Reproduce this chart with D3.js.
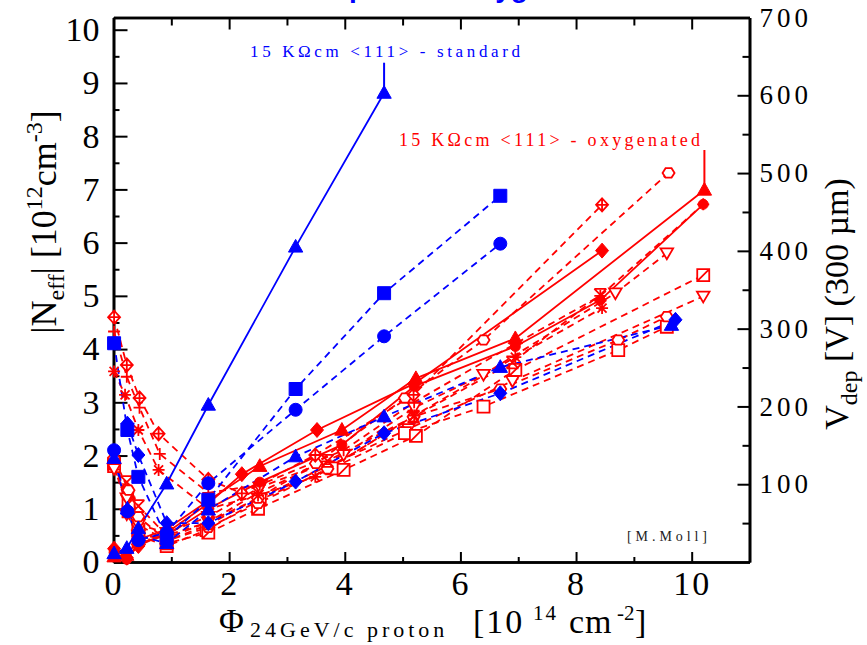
<!DOCTYPE html>
<html>
<head>
<meta charset="utf-8">
<script src="https://cdn.jsdelivr.net/npm/d3@7"></script>
<style>
  body { margin: 0; background: #fff; }
  svg { display: block; }
  text { font-family: "Liberation Serif", "Times New Roman", serif; }
</style>
</head>
<body>
<svg id="chart" width="867" height="645"></svg>
<script>
// Fluence in 1e14 cm^-2, |Neff| in 1e12 cm^-3 (Vdep for 300 um on the right axis)
const fluenceTicks = [0, 2, 4, 6, 8, 10];
const fluenceMinorTicks = [1, 3, 5, 7, 9];
const neffTicks = [0, 1, 2, 3, 4, 5, 6, 7, 8, 9, 10];
const neffMinorTicks = [0.5, 1.5, 2.5, 3.5, 4.5, 5.5, 6.5, 7.5, 8.5, 9.5];
const vdepTicks = [100, 200, 300, 400, 500, 600, 700];
const vdepMinorTicks = [50, 150, 250, 350, 450, 550, 650];
const voltsPerNeff = 68.43; // V per 1e12 cm^-3 for a 300 um thick diode

// 15 kOhm cm <111> standard silicon
const stdTriangleFluence = [0.01, 0.23, 0.43, 0.92, 1.64, 3.15, 4.68];
const stdTriangleNeff    = [0.16, 0.26, 0.63, 1.47, 2.95, 5.92, 8.81];
const stdTriangleErr     = [0, 0, 0, 0, 0, 0, 0.57];
const stdSquareFluence   = [0.01, 0.24, 0.43, 0.92, 1.64, 3.15, 4.68, 6.69];
const stdSquareNeff      = [4.11, 2.48, 1.60, 0.45, 1.17, 3.25, 5.05, 6.88];
const stdCircleFluence   = [0.01, 0.24, 0.43, 0.92, 1.64, 3.15, 4.68, 6.69];
const stdCircleNeff      = [2.10, 0.95, 0.41, 0.55, 1.48, 2.86, 4.24, 5.98];
const stdDiamondFluence  = [0.24, 0.43, 0.92, 1.64, 3.15, 4.68, 6.69, 9.72];
const stdDiamondNeff     = [2.60, 2.01, 0.73, 0.73, 1.51, 2.42, 3.17, 4.55];
const stdTriDashFluence  = [0.01, 0.24, 0.43, 0.92, 1.64, 3.15, 4.68, 6.69, 9.65];
const stdTriDashNeff     = [1.95, 1.00, 0.50, 0.35, 0.98, 1.98, 2.73, 3.66, 4.45];

// 15 kOhm cm <111> oxygenated silicon
const oxTriangleFluence  = [0.01, 0.23, 0.43, 0.92, 1.64, 2.53, 3.95, 5.23, 6.95, 10.22];
const oxTriangleNeff     = [0.10, 0.13, 0.42, 0.62, 1.15, 1.80, 2.48, 3.45, 4.20, 6.99];
const oxTriangleErr      = [0, 0, 0, 0, 0, 0, 0, 0, 0, 0.75];
const oxDiamondFluence   = [0.01, 0.23, 0.43, 0.92, 1.64, 2.22, 3.52, 5.20, 8.45];
const oxDiamondNeff      = [0.25, 0.08, 0.30, 0.55, 1.10, 1.65, 2.48, 3.35, 5.85];
const oxCircleFluence    = [0.01, 0.23, 0.43, 0.92, 1.64, 2.53, 3.95, 5.20, 6.95, 8.42, 10.20];
const oxCircleNeff       = [0.18, 0.05, 0.35, 0.50, 1.00, 1.50, 2.20, 3.30, 4.05, 4.92, 6.72];
const oxDiaPlusFluence   = [0.01, 0.23, 0.45, 0.78, 1.64, 2.22, 3.49, 5.19, 8.45];
const oxDiaPlusNeff      = [4.60, 3.70, 3.08, 2.41, 1.55, 1.29, 2.01, 3.14, 6.71];
const oxPlusFluence      = [0.01, 0.23, 0.45, 0.80, 1.64, 2.53, 3.98, 5.20, 6.95, 8.42, 10.20];
const oxPlusNeff         = [4.33, 3.48, 2.90, 2.03, 1.30, 1.45, 2.10, 3.00, 4.10, 5.00, 6.72];
const oxStarFluence      = [0.01, 0.20, 0.43, 0.78, 1.64, 2.50, 3.49, 5.20, 6.95, 8.45];
const oxStarNeff         = [3.58, 3.14, 2.48, 1.73, 1.00, 1.25, 1.60, 2.75, 3.85, 4.77];
const oxCrossFluence     = [0.23, 0.43, 0.92, 1.64, 2.50, 3.70, 5.19, 6.90, 8.42];
const oxCrossNeff        = [1.50, 1.05, 0.50, 0.75, 1.30, 1.90, 2.73, 3.75, 5.02];
const oxHexFluence       = [0.01, 0.26, 0.43, 0.92, 1.64, 2.50, 3.50, 5.04, 6.40, 9.60];
const oxHexNeff          = [1.95, 1.35, 0.85, 0.40, 0.70, 1.20, 1.85, 3.08, 4.17, 7.31];
const oxHex2Fluence      = [0.01, 0.24, 0.43, 0.92, 1.64, 2.50, 3.70, 5.19, 6.69, 8.73, 9.57];
const oxHex2Neff         = [1.90, 1.25, 0.70, 0.40, 0.65, 1.10, 1.75, 2.73, 3.25, 4.17, 4.61];
const oxSquareFluence    = [0.01, 0.26, 0.43, 0.92, 1.61, 2.53, 3.78, 5.04, 6.40, 8.73, 9.57];
const oxSquareNeff       = [1.80, 0.95, 0.50, 0.30, 0.60, 1.17, 1.76, 2.42, 2.92, 3.98, 4.42];
const oxSlashSqFluence   = [0.01, 0.26, 0.43, 0.92, 1.64, 2.50, 3.98, 5.23, 6.95, 10.20];
const oxSlashSqNeff      = [1.85, 1.10, 0.60, 0.35, 0.55, 1.00, 1.73, 2.37, 3.61, 5.39];
const oxDownTriFluence   = [0.01, 0.23, 0.43, 0.92, 1.64, 2.53, 3.98, 5.20, 6.40, 8.68, 9.57];
const oxDownTriNeff      = [1.75, 1.20, 0.70, 0.55, 0.85, 1.40, 2.01, 2.90, 3.52, 5.05, 5.80];
const oxDownTri2Fluence  = [0.23, 0.43, 0.92, 1.64, 2.50, 3.70, 5.10, 6.90, 10.20];
const oxDownTri2Neff     = [0.90, 0.50, 0.45, 0.75, 1.20, 1.80, 2.50, 3.40, 4.99];

const BLUE = "#0000ff", RED = "#ff0000";

const series = [
  // oxygenated, dashed open markers
  { f: oxDownTri2Fluence, n: oxDownTri2Neff, color: RED, dashed: true, marker: "downtri" },
  { f: oxSquareFluence,   n: oxSquareNeff,   color: RED, dashed: true, marker: "square" },
  { f: oxSlashSqFluence,  n: oxSlashSqNeff,  color: RED, dashed: true, marker: "slashsquare" },
  { f: oxHex2Fluence,     n: oxHex2Neff,     color: RED, dashed: true, marker: "hexagon" },
  { f: oxCrossFluence,    n: oxCrossNeff,    color: RED, dashed: true, marker: "cross" },
  { f: oxDownTriFluence,  n: oxDownTriNeff,  color: RED, dashed: true, marker: "downtri" },
  { f: oxHexFluence,      n: oxHexNeff,      color: RED, dashed: true, marker: "hexagon" },
  { f: oxStarFluence,     n: oxStarNeff,     color: RED, dashed: true, marker: "asterisk" },
  { f: oxPlusFluence,     n: oxPlusNeff,     color: RED, dashed: true, marker: "plus" },
  { f: oxDiaPlusFluence,  n: oxDiaPlusNeff,  color: RED, dashed: true, marker: "diamondplus" },
  // oxygenated, solid filled markers
  { f: oxCircleFluence,   n: oxCircleNeff,   color: RED, dashed: false, marker: "circle", filled: true, r: 5 },
  { f: oxDiamondFluence,  n: oxDiamondNeff,  color: RED, dashed: false, marker: "diamond", filled: true },
  { f: oxTriangleFluence, n: oxTriangleNeff, color: RED, dashed: false, marker: "triangle", filled: true, err: oxTriangleErr },
  // standard
  { f: stdTriDashFluence, n: stdTriDashNeff, color: BLUE, dashed: true, marker: "triangle", filled: true },
  { f: stdDiamondFluence, n: stdDiamondNeff, color: BLUE, dashed: true, marker: "diamond", filled: true },
  { f: stdCircleFluence,  n: stdCircleNeff,  color: BLUE, dashed: true, marker: "circle", filled: true },
  { f: stdSquareFluence,  n: stdSquareNeff,  color: BLUE, dashed: true, marker: "square", filled: true },
  { f: stdTriangleFluence, n: stdTriangleNeff, color: BLUE, dashed: false, marker: "triangle", filled: true, err: stdTriangleErr }
];

const svg = d3.select("#chart");
const plotLeft = 113.5, plotRight = 749.5, plotTop = 17.5, plotBottom = 562;

const x = d3.scaleLinear().domain([0, 11]).range([plotLeft, plotRight]);
const yN = d3.scaleLinear().domain([0, 700 / voltsPerNeff]).range([plotBottom, plotTop]);
const yV = d3.scaleLinear().domain([0, 700]).range([plotBottom, plotTop]);

function styleAxis(g, fontSize, spacing) {
  g.select(".domain").attr("stroke", "#000").attr("stroke-width", 2.6);
  g.selectAll(".tick line").attr("stroke", "#000").attr("stroke-width", 2);
  g.selectAll(".tick text")
    .attr("fill", "#000")
    .style("font-family", '"Liberation Serif", "Times New Roman", serif')
    .style("font-size", fontSize + "px")
    .style("letter-spacing", spacing + "px");
}

// frame: minor ticks first, then major ticks with the axis lines
svg.append("g").attr("transform", `translate(${plotLeft},0)`)
  .call(d3.axisLeft(yN).tickValues(neffMinorTicks).tickSize(-6).tickSizeOuter(0).tickFormat(""))
  .call(g => styleAxis(g, 34, 0));
svg.append("g").attr("transform", `translate(${plotLeft},0)`)
  .call(d3.axisLeft(yN).tickValues(neffTicks).tickSize(-14).tickSizeOuter(0).tickPadding(14).tickFormat(d3.format("d")))
  .call(g => styleAxis(g, 34, 0));

svg.append("g").attr("transform", `translate(${plotRight},0)`)
  .call(d3.axisRight(yV).tickValues(vdepMinorTicks).tickSize(-7).tickSizeOuter(0).tickFormat(""))
  .call(g => styleAxis(g, 27, 4));
svg.append("g").attr("transform", `translate(${plotRight},0)`)
  .call(d3.axisRight(yV).tickValues(vdepTicks).tickSize(-12).tickSizeOuter(0).tickPadding(10).tickFormat(d3.format("d")))
  .call(g => styleAxis(g, 27, 4));

svg.append("g").attr("transform", `translate(0,${plotBottom})`)
  .call(d3.axisBottom(x).tickValues(fluenceMinorTicks).tickSize(-5).tickSizeOuter(0).tickFormat(""))
  .call(g => styleAxis(g, 34, 0));
svg.append("g").attr("transform", `translate(0,${plotBottom})`)
  .call(d3.axisBottom(x).tickValues(fluenceTicks).tickSize(-10).tickSizeOuter(0).tickPadding(9).tickFormat(d3.format("d")))
  .call(g => styleAxis(g, 34, 2));

svg.append("g").attr("transform", `translate(0,${plotTop})`)
  .call(d3.axisTop(x).tickValues(fluenceMinorTicks).tickSize(-8).tickSizeOuter(0).tickFormat(""))
  .call(g => styleAxis(g, 34, 0));
svg.append("g").attr("transform", `translate(0,${plotTop})`)
  .call(d3.axisTop(x).tickValues(fluenceTicks).tickSize(-12).tickSizeOuter(0).tickFormat(""))
  .call(g => styleAxis(g, 34, 0));

// marker shapes
function markerPath(type, r) {
  switch (type) {
    case "square": return `M${-r},${-r}H${r}V${r}H${-r}Z`;
    case "triangle": return `M0,${-r * 1.15}L${r * 1.1},${r * 0.8}L${-r * 1.1},${r * 0.8}Z`;
    case "downtri": return `M0,${r * 1.0}L${r * 1.05},${-r * 0.8}L${-r * 1.05},${-r * 0.8}Z`;
    case "diamond": return `M0,${-r * 1.15}L${r},0L0,${r * 1.15}L${-r},0Z`;
    case "circle": return `M${r},0A${r},${r} 0 1,1 ${-r},0A${r},${r} 0 1,1 ${r},0Z`;
    case "hexagon": {
      const pts = d3.range(6).map(i => [r * Math.cos(i * Math.PI / 3), r * 0.9 * Math.sin(i * Math.PI / 3)]);
      return "M" + pts.map(p => p.join(",")).join("L") + "Z";
    }
    case "plus": return `M${-r},0H${r}M0,${-r}V${r}`;
    case "asterisk": {
      const d = r * 0.75;
      return `M${-r},0H${r}M0,${-r}V${r}M${-d},${-d}L${d},${d}M${-d},${d}L${d},${-d}`;
    }
    case "diamondplus": return `M0,${-r * 1.1}L${r},0L0,${r * 1.1}L${-r},0ZM${-r},0H${r}M0,${-r * 1.1}V${r * 1.1}`;
    case "slashsquare": return `M${-r},${-r}H${r}V${r}H${-r}ZM${-r},${r}L${r},${-r}`;
    case "cross": return `M${-r},${-r}L${r},${r}M${-r},${r}L${r},${-r}M${-r},${-r}H${r}M${-r},${r}H${r}`;
  }
}
const openFilled = new Set(["square", "downtri", "hexagon", "diamondplus", "slashsquare"]);

const line = d3.line().x(d => x(d[0])).y(d => yN(d[1]));
const plot = svg.append("g");

series.forEach(s => {
  const pts = s.f.map((f, i) => [f, s.n[i]]);
  plot.append("path")
    .attr("d", line(pts))
    .attr("fill", "none")
    .attr("stroke", s.color)
    .attr("stroke-width", 1.8)
    .attr("stroke-dasharray", s.dashed ? "7,5" : null);
  if (s.err) {
    pts.forEach((p, i) => {
      if (s.err[i] > 0) {
        plot.append("line")
          .attr("x1", x(p[0])).attr("x2", x(p[0]))
          .attr("y1", yN(p[1])).attr("y2", yN(p[1] + s.err[i]))
          .attr("stroke", s.color).attr("stroke-width", 2);
      }
    });
  }
});

series.forEach(s => {
  const pts = s.f.map((f, i) => [f, s.n[i]]);
  const r = s.r || (s.filled ? 6.5 : 6);
  plot.selectAll(null).data(pts).enter().append("path")
    .attr("transform", d => `translate(${x(d[0])},${yN(d[1])})`)
    .attr("d", markerPath(s.marker, r))
    .attr("fill", s.filled ? s.color : (openFilled.has(s.marker) ? "#fff" : "none"))
    .attr("stroke", s.color)
    .attr("stroke-width", s.filled ? 1 : 1.8);
});

// annotations
svg.append("text").attr("x", 250).attr("y", 57)
  .attr("textLength", 270).attr("lengthAdjust", "spacing")
  .attr("fill", BLUE).style("font-size", "17px")
  .text("15 K\u03A9cm <111> - standard");
svg.append("text").attr("x", 399).attr("y", 146)
  .attr("textLength", 301).attr("lengthAdjust", "spacing")
  .attr("fill", RED).style("font-size", "18px")
  .text("15 K\u03A9cm <111> - oxygenated");
svg.append("text").attr("x", 627).attr("y", 541)
  .attr("textLength", 80).attr("lengthAdjust", "spacing")
  .attr("fill", "#222").style("font-size", "14px")
  .text("[M.Moll]");

// heading above the frame (only its lowest strokes fall inside the page)
svg.append("text").attr("x", 349).attr("y", -3)
  .attr("fill", BLUE)
  .style("font-family", '"Liberation Sans", Arial, sans-serif')
  .style("font-weight", "bold").style("font-size", "28px")
  .text("proton - oxygenated silicon");

// left axis title
const yTitle = svg.append("text")
  .attr("transform", "translate(56,222) rotate(-90)")
  .attr("text-anchor", "middle")
  .style("font-size", "36px").attr("fill", "#000");
yTitle.append("tspan").text("|N");
yTitle.append("tspan").attr("dy", 8).style("font-size", "24px").text("eff");
yTitle.append("tspan").attr("dy", -8).text("|  [10");
yTitle.append("tspan").attr("dy", -14).style("font-size", "24px").text("12");
yTitle.append("tspan").attr("dy", 14).text("cm");
yTitle.append("tspan").attr("dy", -14).style("font-size", "24px").text("-3");
yTitle.append("tspan").attr("dy", 14).text("]");

// right axis title
const vTitle = svg.append("text")
  .attr("transform", "translate(848,304) rotate(-90)")
  .attr("text-anchor", "middle")
  .style("font-size", "34px").attr("fill", "#000");
vTitle.append("tspan").text("V");
vTitle.append("tspan").attr("dy", 9).style("font-size", "24px").text("dep");
vTitle.append("tspan").attr("dy", -9).text(" [V] (300 \u00B5m)");

// bottom axis title
const xTitle = svg.append("text").attr("fill", "#000");
xTitle.append("tspan").attr("x", 219).attr("y", 632).style("font-size", "34px").text("\u03A6");
xTitle.append("tspan").attr("x", 250).attr("y", 637).style("font-size", "22px").style("letter-spacing", "4px").text("24GeV/c proton");
xTitle.append("tspan").attr("x", 473).attr("y", 633).style("font-size", "34px").style("letter-spacing", "2px").text("[10");
xTitle.append("tspan").attr("x", 533).attr("y", 620).style("font-size", "21px").style("letter-spacing", "2px").text("14");
xTitle.append("tspan").attr("x", 569).attr("y", 633).style("font-size", "34px").style("letter-spacing", "1px").text("cm");
xTitle.append("tspan").attr("x", 617).attr("y", 620).style("font-size", "21px").text("-2");
xTitle.append("tspan").attr("x", 635).attr("y", 633).style("font-size", "34px").text("]");
</script>
</body>
</html>
